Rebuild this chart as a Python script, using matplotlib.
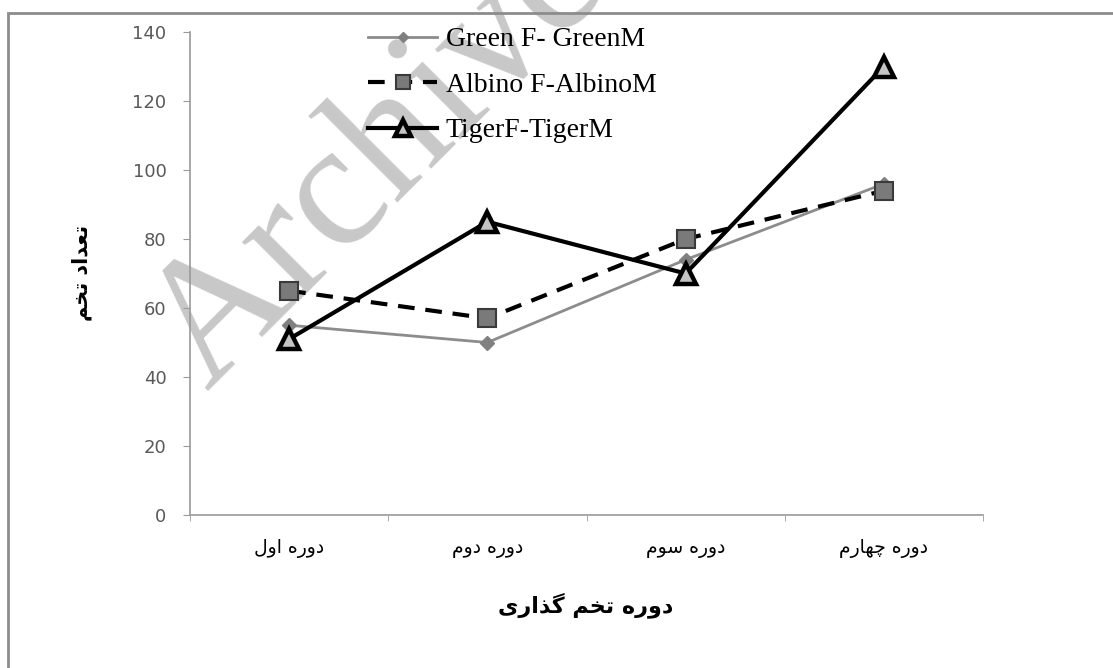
import matplotlib
matplotlib.use("Agg")
import matplotlib.pyplot as plt
from matplotlib.patches import Rectangle

# egg-laying periods (x categories)
periods = ["دوره اول", "دوره دوم", "دوره سوم", "دوره چهارم"]
x_title = "دوره تخم گذاری"
y_title = "تعداد تخم"

series_names = ["Green F- GreenM", "Albino F-AlbinoM", "TigerF-TigerM"]
green = [55, 50, 74, 96]
albino = [65, 57, 80, 94]
tiger = [51, 85, 70, 130]

# --- minimal persian shaping (matplotlib has no RTL / joining support) ---
# letter: (isolated, final, initial, medial); None -> does not join forward
FORMS = {
    "ا": ("\uFE8D", "\uFE8E", None, None),
    "د": ("\uFEA9", "\uFEAA", None, None),
    "ذ": ("\uFEAB", "\uFEAC", None, None),
    "ر": ("\uFEAD", "\uFEAE", None, None),
    "و": ("\uFEED", "\uFEEE", None, None),
    "ه": ("\uFEE9", "\uFEEA", "\uFEEB", "\uFEEC"),
    "ل": ("\uFEDD", "\uFEDE", "\uFEDF", "\uFEE0"),
    "م": ("\uFEE1", "\uFEE2", "\uFEE3", "\uFEE4"),
    "س": ("\uFEB1", "\uFEB2", "\uFEB3", "\uFEB4"),
    "چ": ("\uFB7A", "\uFB7B", "\uFB7C", "\uFB7D"),
    "ت": ("\uFE95", "\uFE96", "\uFE97", "\uFE98"),
    "خ": ("\uFEA5", "\uFEA6", "\uFEA7", "\uFEA8"),
    "گ": ("\uFB92", "\uFB93", "\uFB94", "\uFB95"),
    "ی": ("\uFBFC", "\uFBFD", "\uFBFE", "\uFBFF"),
    "ع": ("\uFEC9", "\uFECA", "\uFECB", "\uFECC"),
}


def shape(text):
    out = []
    for i, ch in enumerate(text):
        if ch not in FORMS:
            out.append(ch)
            continue
        prev = text[i - 1] if i > 0 else " "
        nxt = text[i + 1] if i + 1 < len(text) else " "
        # previous letter connects to this one?
        join_prev = prev in FORMS and FORMS[prev][2] is not None
        join_next = nxt in FORMS and FORMS[ch][2] is not None
        iso, fin, ini, med = FORMS[ch]
        if join_prev and join_next:
            out.append(med)
        elif join_prev:
            out.append(fin)
        elif join_next:
            out.append(ini)
        else:
            out.append(iso)
    return "".join(out)[::-1]


fig = plt.figure(figsize=(11.13, 6.68), dpi=100)
W, H = 1113, 668

# outer grey frame of the original picture
fig.patches.append(Rectangle((8 / W, -0.1), 1.2, (1 - 13 / H) + 0.1,
                             transform=fig.transFigure, fill=False,
                             edgecolor="#8c8c8c", lw=2))

ax = fig.add_axes([190 / W, 1 - 515 / H, (983 - 190) / W, (515 - 32) / H])
ax.patch.set_alpha(0)

x = [1, 2, 3, 4]
ax.plot(x, green, color="#8c8c8c", lw=2, marker="D", ms=7,
        mfc="#808080", mec="#808080", label=series_names[0], zorder=3)
ax.plot(x, albino, color="black", lw=3, ls=(0, (4, 2.6)), marker="s", ms=13,
        mfc="#7a7a7a", mec="#3a3a3a", mew=1.5, label=series_names[1], zorder=4)
ax.plot(x, tiger, color="black", lw=3, marker="^", ms=15,
        mfc="#c4c4c4", mec="black", mew=3.2, label=series_names[2], zorder=5)

ax.set_xlim(0.5, 4.5)
ax.set_ylim(0, 140)
ax.set_yticks(range(0, 141, 20))
ax.set_xticks(x)
ax.set_xticklabels([shape(p) for p in periods], fontsize=13.5,
                   family="DejaVu Sans")
ax.set_xticks([0.5, 1.5, 2.5, 3.5, 4.5], minor=True)
ax.tick_params(axis="x", which="major", length=0, pad=17)
ax.tick_params(axis="x", which="minor", length=4, color="#9a9a9a")
ax.tick_params(axis="y", length=5, color="#9a9a9a", labelcolor="#595959",
               labelsize=13, pad=12)
for s in ["top", "right"]:
    ax.spines[s].set_visible(False)
for s in ["left", "bottom"]:
    ax.spines[s].set_color("#9a9a9a")
    ax.spines[s].set_linewidth(1.2)

fig.text(586 / W, 1 - 605 / H, shape(x_title), fontsize=16, fontweight="bold",
         family="DejaVu Sans", ha="center", va="center")
fig.text(82 / W, 1 - 273 / H, shape(y_title), fontsize=15, fontweight="bold",
         family="DejaVu Sans", rotation=90, ha="center", va="center")

ax.legend(loc="upper left", bbox_to_anchor=(368 / W, 1 - 27 / H),
          bbox_transform=fig.transFigure, frameon=False,
          prop={"family": "Liberation Serif", "size": 20},
          handlelength=2.5, handletextpad=0.3, labelspacing=0.72,
          borderpad=0, borderaxespad=0, markerscale=0.75)

# watermark of the source archive, under the data lines
ax.text(207 / W, 1 - 392 / H, "Archive", transform=fig.transFigure,
        fontsize=128, family="Liberation Serif", color="#c8c8c8",
        rotation=45, rotation_mode="anchor", ha="left", va="baseline",
        zorder=1, clip_on=False)

fig.savefig("out.png", dpi=100)
